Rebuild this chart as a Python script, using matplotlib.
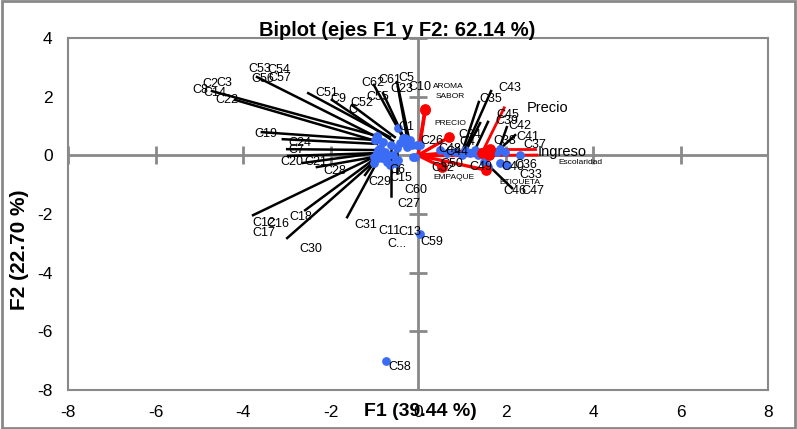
import numpy as np
import matplotlib
matplotlib.use('Agg')
import matplotlib.pyplot as plt
from matplotlib.patches import Rectangle

plt.rcParams['font.family'] = ['Liberation Sans', 'DejaVu Sans']
plt.rcParams['axes.unicode_minus'] = False

# Observations (blue points)
obs_x = [-0.91, -0.80, -0.87, -0.75, -0.69, -0.82, -0.71, -0.64, -0.53, -0.46,
         -0.57, -0.48, -0.41, -0.30, -0.18, -0.14, -0.02, -0.07, -0.46, -0.25,
         -0.94, -0.98, -0.91, -0.94, -1.01, -0.91, -1.01, -0.62, -0.23, -0.34,
         0.05, -0.11,
         0.50, 0.66, 0.85, 1.01, 1.19, 1.37, 1.65, 1.81, 1.99, 2.33,
         1.87, 2.03, 1.51, 1.60, 1.07, 1.30, 1.87,
         0.05, -0.73]
obs_y = [0.56, 0.45, 0.25, 0.11, 0.01, -0.09, -0.23, -0.33, -0.26, -0.16,
         0.01, 0.25, 0.42, 0.59, 0.52, 0.35, 0.35, -0.06, 0.93, 0.28,
         0.66, 0.52, 0.18, 0.08, -0.06, -0.09, -0.26, 0.35, 0.42, 0.59,
         0.35, -0.06,
         0.18, 0.08, 0.11, 0.01, 0.08, 0.01, 0.01, 0.11, 0.11, 0.01,
         -0.26, -0.33, -0.23, -0.40, 0.18, 0.18, 0.21,
         -2.68, -7.00]

# Observation labels
lab_names = ['C53', 'C54', 'C56', 'C57', 'C2', 'C3', 'C8', 'C14', 'C22',
             'C51', 'C9', 'C52', 'C', 'C62', 'C61', 'C5', 'C55', 'C23', 'C10', 'C1',
             'C19', 'C24', 'C7', 'C20', 'C21', 'C28', 'C6', 'C15', 'C29', 'C60', 'C27',
             'C12', 'C16', 'C17', 'C18', 'C30', 'C31', 'C11', 'C13', 'C...', 'C59', 'C58',
             'C26', 'C48', 'C32', 'C50', 'C44', 'C4', 'C34', 'C38', 'C42', 'C41', 'C37',
             'C39', 'C45', 'C43', 'C35', 'C49', 'C40', 'C36', 'C33', 'C46', 'C47']
lab_x = [-3.61, -3.18, -3.54, -3.15, -4.75, -4.43, -4.98, -4.64, -4.37,
         -2.08, -1.83, -1.28, -1.49, -1.03, -0.64, -0.27, -0.91, -0.37, 0.05, -0.27,
         -3.47, -2.70, -2.77, -2.88, -2.33, -1.90, -0.46, -0.39, -0.87, -0.05, -0.21,
         -3.52, -3.20, -3.52, -2.67, -2.45, -1.19, -0.66, -0.18, -0.48, 0.32, -0.41,
         0.32, 0.73, 0.57, 0.78, 0.89, 1.14, 1.19, 1.99, 2.33, 2.51, 2.67,
         2.03, 2.06, 2.10, 1.67, 1.44, 2.17, 2.47, 2.58, 2.22, 2.63]
lab_y = [2.94, 2.91, 2.60, 2.64, 2.43, 2.47, 2.23, 2.12, 1.89,
         2.12, 1.92, 1.78, 1.55, 2.47, 2.57, 2.64, 1.99, 2.26, 2.33, 0.96,
         0.73, 0.42, 0.18, -0.23, -0.23, -0.54, -0.50, -0.77, -0.91, -1.18, -1.66,
         -2.31, -2.35, -2.65, -2.11, -3.18, -2.36, -2.58, -2.61, -3.02, -2.95, -7.22,
         0.49, 0.21, -0.43, -0.30, 0.11, 0.45, 0.69, 0.49, 1.00, 0.62, 0.35,
         1.17, 1.37, 2.29, 1.92, -0.40, -0.40, -0.33, -0.67, -1.22, -1.22]

# Leader lines (point -> label)
lead_x0 = [-0.94, -0.87, -0.94, -0.64, -0.57, -0.53, -0.30, -0.32, -0.18, -0.23,
           -0.98, -0.94, -0.91, -0.87, -0.94, -0.91, -0.48, -0.62,
           -1.01, -0.94, -0.91, -0.91, -1.01,
           1.07, 1.01, 1.30, 1.07, 1.87, 1.87, 1.65]
lead_y0 = [0.66, 0.45, 0.62, 0.62, 0.49, 0.62, 0.49, 0.59, 0.39, 0.42,
           0.52, 0.39, 0.18, 0.08, 0.08, -0.03, 0.25, 0.35,
           -0.06, -0.06, -0.09, -0.16, -0.26,
           0.18, 0.11, 0.18, 0.08, 0.28, 0.21, -0.40]
lead_x1 = [-4.71, -4.18, -3.68, -2.51, -1.97, -1.51, -1.01, -0.80, -0.48, -0.46,
           -3.57, -3.09, -2.99, -2.97, -2.63, -2.31, -0.48, -0.62,
           -3.77, -2.58, -2.99, -1.62, -1.21,
           1.67, 1.39, 1.60, 1.42, 2.03, 2.22, 2.15]
lead_y1 = [2.19, 1.89, 2.67, 2.12, 1.89, 1.71, 2.40, 2.12, 2.50, 2.33,
           0.79, 0.55, 0.21, -0.02, -0.26, -0.40, -0.60, -1.39,
           -2.04, -1.87, -2.82, -2.11, -0.67,
           2.19, 1.82, 1.14, 1.10, 0.96, 0.69, -1.12]

# Variables (red vectors)
var_names = ['AROMA', 'SABOR', 'PRECIO', 'EMPAQUE', 'ETIQUETA', 'Precio', 'Ingreso', 'Escolaridad']
var_x = [0.16, 0.17, 0.71, 0.55, 1.55, 1.46, 1.65, 1.62]
var_y = [1.58, 1.55, 0.62, -0.40, -0.50, 0.08, 0.21, 0.00]
var_lab_x = [0.69, 0.73, 0.73, 0.82, 2.33, 2.49, 2.74, 3.20]
var_lab_y = [2.36, 1.99, 1.10, -0.74, -0.91, 1.62, 0.11, -0.26]
var_big = [False, False, False, False, False, True, True, False]
# red leaders for labels placed away from their point
var_lead_x1 = [np.nan, np.nan, np.nan, np.nan, np.nan, 1.97, 2.67, 2.72]
var_lead_y1 = [np.nan, np.nan, np.nan, np.nan, np.nan, 1.62, 0.21, 0.01]

ticks = [-8, -6, -4, -2, 0, 2, 4, 6, 8]

blue = '#3b6cf5'
red = '#ff0000'
grey = '#898989'

fig = plt.figure(figsize=(7.97, 4.29), dpi=100)
ax = fig.add_axes([68 / 797, 1 - 390 / 429, 700 / 797, 352 / 429])
ax.set_xlim(-8, 8)
ax.set_ylim(-8, 4)

for s in ax.spines.values():
    s.set_color(grey)
    s.set_linewidth(1.5)

ax.axhline(0, color=grey, lw=2, zorder=1)
ax.axvline(0, color=grey, lw=2, zorder=1)
ax.plot(ticks, [0] * len(ticks), ls='none', marker='|', ms=13, mew=2, color=grey, zorder=1)
ax.plot([0] * 7, [-8, -6, -4, -2, 0, 2, 4], ls='none', marker='_', ms=13, mew=2, color=grey, zorder=1)

ax.set_xticks(ticks)
ax.set_yticks([-8, -6, -4, -2, 0, 2, 4])
ax.tick_params(length=0, labelsize=12.5, pad=11)

# leader lines
for x0, y0, x1, y1 in zip(lead_x0, lead_y0, lead_x1, lead_y1):
    ax.plot([x0, x1], [y0, y1], color='black', lw=1.8, zorder=2)

# variable vectors
for i in range(len(var_names)):
    ax.plot([0, var_x[i]], [0, var_y[i]], color=red, lw=2.4, zorder=3)
    if not np.isnan(var_lead_x1[i]):
        ax.plot([var_x[i], var_lead_x1[i]], [var_y[i], var_lead_y1[i]], color=red, lw=2, zorder=3)
ax.scatter(var_x, var_y, s=60, color=red, zorder=5, linewidths=0)

ax.scatter(obs_x, obs_y, s=40, color=blue, zorder=4, linewidths=0)

for n, x, y in zip(lab_names, lab_x, lab_y):
    ax.text(x, y, n, fontsize=9, ha='center', va='center', zorder=6)

for i, n in enumerate(var_names):
    if var_big[i]:
        ax.text(var_lab_x[i], var_lab_y[i], n, fontsize=10.5, ha='left', va='center', zorder=6)
    elif n == 'Escolaridad':
        ax.text(var_lab_x[i], var_lab_y[i], n, fontsize=6, ha='left', va='center', zorder=6)
    else:
        ax.text(var_lab_x[i], var_lab_y[i], n, fontsize=6, ha='center', va='center', zorder=6)

fig.text(397 / 797, 1 - 30 / 429, 'Biplot (ejes F1 y F2: 62.14 %)', fontsize=14.5,
         fontweight='bold', ha='center', va='center')
fig.text(420 / 797, 1 - 412 / 429, 'F1 (39.44 %)', fontsize=14,
         fontweight='bold', ha='center', va='center')
fig.text(20 / 797, 1 - 250 / 429, 'F2 (22.70 %)', fontsize=15,
         fontweight='bold', ha='center', va='center', rotation=90)

fig.patches.append(Rectangle((0.002, 0.003), 0.996, 0.994, transform=fig.transFigure,
                             fill=False, edgecolor=grey, lw=2))

fig.savefig('out.png', dpi=100)
